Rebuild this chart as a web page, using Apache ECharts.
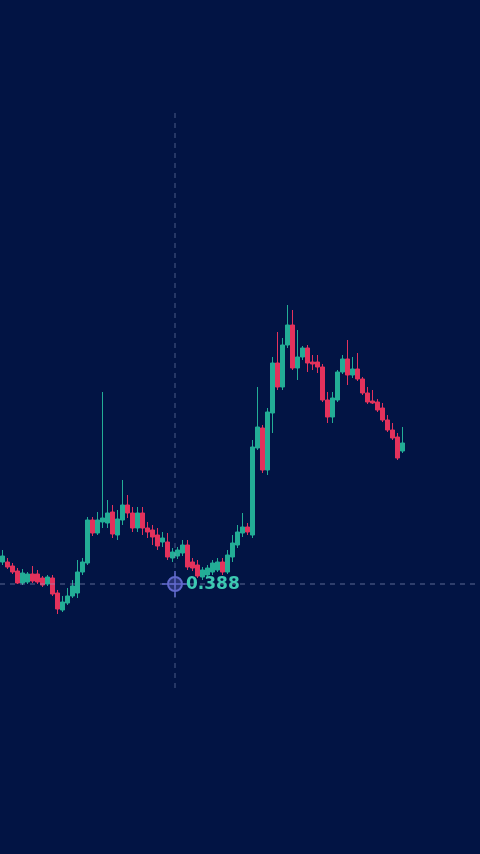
<!DOCTYPE html>
<html>
<head>
<meta charset="utf-8">
<script src="https://cdn.jsdelivr.net/npm/echarts@6/dist/echarts.min.js"></script>
<style>
html,body{margin:0;padding:0;background:#021444;}
#main{width:480px;height:854px;}
</style>
</head>
<body>
<div id="main"></div>
<script>
// [open, close, low, high]
const candles = [
[0.399,0.402,0.3975,0.405],
[0.399,0.3965,0.3955,0.401],
[0.397,0.394,0.393,0.3985],
[0.3945,0.3885,0.388,0.396],
[0.3885,0.3935,0.3875,0.3955],
[0.389,0.393,0.388,0.394],
[0.393,0.3895,0.3885,0.397],
[0.393,0.389,0.388,0.395],
[0.391,0.3875,0.3865,0.392],
[0.388,0.3915,0.387,0.3925],
[0.391,0.383,0.382,0.3925],
[0.3835,0.3755,0.373,0.385],
[0.375,0.379,0.374,0.382],
[0.3785,0.382,0.3775,0.386],
[0.382,0.387,0.381,0.39],
[0.3835,0.394,0.381,0.4],
[0.394,0.399,0.3925,0.401],
[0.3985,0.42,0.3975,0.4215],
[0.42,0.4135,0.412,0.4215],
[0.4135,0.42,0.4125,0.424],
[0.419,0.421,0.416,0.484],
[0.4185,0.4235,0.416,0.43],
[0.424,0.413,0.411,0.4275],
[0.4125,0.4205,0.41,0.425],
[0.42,0.4275,0.4175,0.44],
[0.4275,0.4235,0.421,0.4325],
[0.4235,0.416,0.414,0.4265],
[0.416,0.4235,0.414,0.4265],
[0.4235,0.416,0.4125,0.4265],
[0.416,0.414,0.411,0.419],
[0.415,0.4115,0.4075,0.4175],
[0.4125,0.407,0.405,0.416],
[0.409,0.411,0.4065,0.414],
[0.409,0.4015,0.4,0.4135],
[0.401,0.404,0.399,0.406],
[0.402,0.405,0.4005,0.4065],
[0.4035,0.4075,0.402,0.41],
[0.4075,0.3965,0.395,0.41],
[0.399,0.396,0.3945,0.401],
[0.3975,0.392,0.391,0.4],
[0.3915,0.395,0.39,0.3965],
[0.3925,0.396,0.3915,0.3975],
[0.394,0.3985,0.3925,0.4],
[0.395,0.399,0.394,0.401],
[0.399,0.394,0.3925,0.401],
[0.394,0.4025,0.393,0.405],
[0.4015,0.4085,0.399,0.4125],
[0.4075,0.414,0.406,0.4175],
[0.4135,0.4165,0.4115,0.4235],
[0.4165,0.414,0.4125,0.4185],
[0.4125,0.4565,0.411,0.46],
[0.456,0.4665,0.455,0.4865],
[0.466,0.445,0.4435,0.4675],
[0.445,0.474,0.4425,0.476],
[0.4735,0.4985,0.4635,0.5015],
[0.4985,0.4865,0.485,0.514],
[0.4865,0.5075,0.485,0.511],
[0.5075,0.5175,0.506,0.5275],
[0.5175,0.496,0.495,0.525],
[0.496,0.5015,0.49,0.515],
[0.5015,0.506,0.5,0.507],
[0.506,0.4985,0.494,0.5075],
[0.499,0.498,0.495,0.5025],
[0.499,0.4965,0.4935,0.5025],
[0.4965,0.48,0.479,0.498],
[0.48,0.4715,0.4685,0.484],
[0.4715,0.481,0.4685,0.484],
[0.48,0.494,0.479,0.495],
[0.494,0.5005,0.493,0.5025],
[0.5005,0.4925,0.4875,0.51],
[0.4925,0.4955,0.491,0.5015],
[0.4955,0.4905,0.4895,0.5035],
[0.4905,0.4835,0.4825,0.4915],
[0.4835,0.479,0.478,0.4865],
[0.4795,0.4785,0.478,0.485],
[0.479,0.475,0.474,0.4805],
[0.476,0.47,0.469,0.4785],
[0.47,0.465,0.464,0.4725],
[0.465,0.461,0.46,0.4685],
[0.4615,0.451,0.45,0.4635],
[0.4545,0.4585,0.4535,0.4665]
];
const categories = candles.map((_, i) => String(i + 1));
const crossPrice = 0.388;
const crossLabel = '0.388';
const yMin = 0.253;
const yMax = 0.68;

const UP = '#23ad96';
const DOWN = '#e3325c';

const chart = echarts.init(document.getElementById('main'), null, {renderer: 'canvas'});
chart.setOption({
  backgroundColor: '#021444',
  animation: false,
  grid: {left: 0, right: 75, top: 0, bottom: 0},
  xAxis: {
    type: 'category', data: categories, boundaryGap: true,
    axisLine: {show: false}, axisTick: {show: false}, axisLabel: {show: false}, splitLine: {show: false}
  },
  yAxis: {
    type: 'value', min: yMin, max: yMax, scale: true,
    axisLine: {show: false}, axisTick: {show: false}, axisLabel: {show: false}, splitLine: {show: false}
  },
  series: [{
    type: 'candlestick',
    data: candles,
    barWidth: 4,
    itemStyle: {color: UP, color0: DOWN, borderColor: UP, borderColor0: DOWN, borderWidth: 1}
  }]
});

const py = chart.convertToPixel({yAxisIndex: 0}, crossPrice);
const cx = 175;
chart.setOption({
  graphic: [
    {type: 'line', shape: {x1: 0, y1: py, x2: 480, y2: py},
     style: {stroke: 'rgba(150,160,200,0.6)', lineWidth: 1, lineDash: [5, 5]}, z: 5},
    {type: 'line', shape: {x1: cx, y1: 113, x2: cx, y2: 692},
     style: {stroke: 'rgba(150,160,200,0.5)', lineWidth: 1, lineDash: [5, 5]}, z: 5},
    {type: 'circle', shape: {cx: cx, cy: py, r: 7},
     style: {fill: 'rgba(110,110,210,0.35)', stroke: '#6168cc', lineWidth: 2}, z: 10},
    {type: 'line', shape: {x1: cx - 13, y1: py, x2: cx + 13, y2: py},
     style: {stroke: '#6168cc', lineWidth: 1.5}, z: 10},
    {type: 'line', shape: {x1: cx, y1: py - 13, x2: cx, y2: py + 13},
     style: {stroke: '#6168cc', lineWidth: 1.5}, z: 10},
    {type: 'text', x: 186, y: py + 1, z: 10,
     style: {text: crossLabel, fill: '#3dc9b2', font: 'bold 17px "DejaVu Sans", sans-serif', textVerticalAlign: 'middle'}}
  ]
});
</script>
</body>
</html>
